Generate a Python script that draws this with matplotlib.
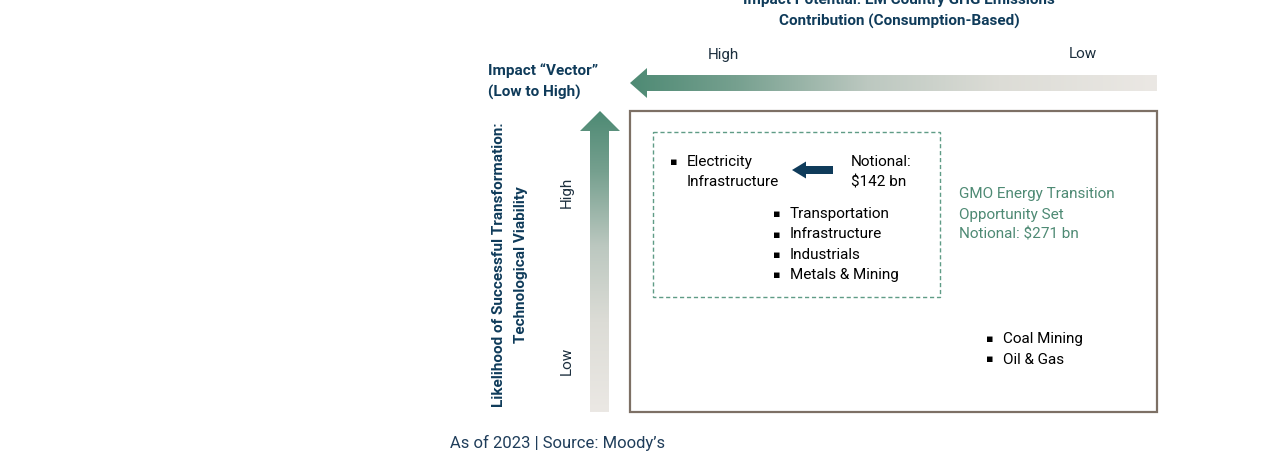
import numpy as np
import matplotlib
matplotlib.use("Agg")
import matplotlib.pyplot as plt
from matplotlib.colors import LinearSegmentedColormap
from matplotlib.patches import Polygon, Rectangle, FancyArrow

plt.rcParams['font.family'] = ['Roboto', 'DejaVu Sans']

# text content
title_lines = ["Impact Potential: EM Country GHG Emissions", "Contribution (Consumption-Based)"]
x_ends = ["High", "Low"]
y_ends = ["High", "Low"]
vector_label = ["Impact \u201cVector\u201d", "(Low to High)"]
y_title = ["Likelihood of Successful Transformation:", "Technological Viability"]
elec_items = ["Electricity", "Infrastructure"]
notional_inner = ["Notional:", "$142 bn"]
mid_items = ["Transportation", "Infrastructure", "Industrials", "Metals & Mining"]
gmo_lines = ["GMO Energy Transition", "Opportunity Set", "Notional: $271 bn"]
low_items = ["Coal Mining", "Oil & Gas"]
footer = "As of 2023 | Source: Moody\u2019s"

navy = "#0f3b5a"
green = "#4e8a74"
dark = "#1c2f3e"
box_col = "#7d7065"

W, H = 1275, 468
fig = plt.figure(figsize=(W / 100, H / 100), dpi=100)
ax = fig.add_axes([0, 0, 1, 1])
ax.set_xlim(0, W)
ax.set_ylim(H, 0)
ax.axis("off")

grad = LinearSegmentedColormap.from_list(
    "g", [(0, green), (0.2, "#76a08f"), (0.45, "#bcc8c0"), (0.7, "#dcdcd6"), (1, "#ebe8e4")])

# horizontal arrow (points left)
harrow = Polygon([(630, 83), (647, 68), (647, 75), (1157, 75), (1157, 91),
                  (647, 91), (647, 98)], closed=True, facecolor="none", edgecolor="none")
ax.add_patch(harrow)
im = ax.imshow(np.linspace(0, 1, 256)[None, :], cmap=grad, aspect="auto",
               extent=(630, 1157, 98, 68), interpolation="bilinear")
im.set_clip_path(harrow)

# vertical arrow (points up)
varrow = Polygon([(600, 111), (620, 131), (609, 131), (609, 412), (590, 412),
                  (590, 131), (580, 131)], closed=True, facecolor="none", edgecolor="none")
ax.add_patch(varrow)
im2 = ax.imshow(np.linspace(0, 1, 256)[:, None], cmap=grad, aspect="auto",
                extent=(580, 620, 412, 111), interpolation="bilinear")
im2.set_clip_path(varrow)

# boxes
ax.add_patch(Rectangle((630, 111), 527, 301, facecolor="none", edgecolor=box_col, lw=1.6))
ax.add_patch(Rectangle((653, 132), 287, 165, facecolor="none", edgecolor="#5f9c86",
                       lw=1.0, ls=(0, (3, 2))))

fs = 11
# titles
for i, t in enumerate(title_lines):
    ax.text(899, 0 + 21 * i, t, ha="center", va="center", fontsize=fs,
            fontweight="bold", color=navy)
ax.text(723, 55, x_ends[0], ha="center", va="center", fontsize=fs, color=dark)
ax.text(1083, 54, x_ends[1], ha="center", va="center", fontsize=fs, color=dark)
for i, t in enumerate(vector_label):
    ax.text(488, 71 + 21 * i, t, ha="left", va="center", fontsize=fs,
            fontweight="bold", color=navy)
ax.text(567, 192, y_ends[0], ha="center", va="center", rotation=90, fontsize=fs, color=dark)
ax.text(567, 361, y_ends[1], ha="center", va="center", rotation=90, fontsize=fs, color=dark)
for i, t in enumerate(y_title):
    ax.text(499 + 22 * i, 265, t, ha="center", va="center", rotation=90, fontsize=fs,
            fontweight="bold", color=navy)


def bullets(x, y0, items, step=20.5):
    for i, t in enumerate(items):
        y = y0 + step * i
        ax.text(x, y, "\u25aa", ha="center", va="center", fontsize=8, color="black",
                family="DejaVu Sans")
        ax.text(x + 13, y, t, ha="left", va="center", fontsize=fs, color="black")


bullets(674, 162, elec_items[:1])
ax.text(687, 182, elec_items[1], ha="left", va="center", fontsize=fs, color="black")
for i, t in enumerate(notional_inner):
    ax.text(851, 162 + 20 * i, t, ha="left", va="center", fontsize=fs, color="black")
ax.add_patch(FancyArrow(833, 170, -27, 0, width=8, head_width=17, head_length=14,
                        length_includes_head=False, color=navy, lw=0))
bullets(777, 214, mid_items)
for i, t in enumerate(gmo_lines):
    ax.text(959, 194 + 20.5 * i, t, ha="left", va="center", fontsize=fs, color=green)
bullets(990, 339, low_items)

ax.text(450, 443, footer, ha="left", va="center", fontsize=12, color="#1f3d5a")

fig.savefig("out.png", dpi=100)
